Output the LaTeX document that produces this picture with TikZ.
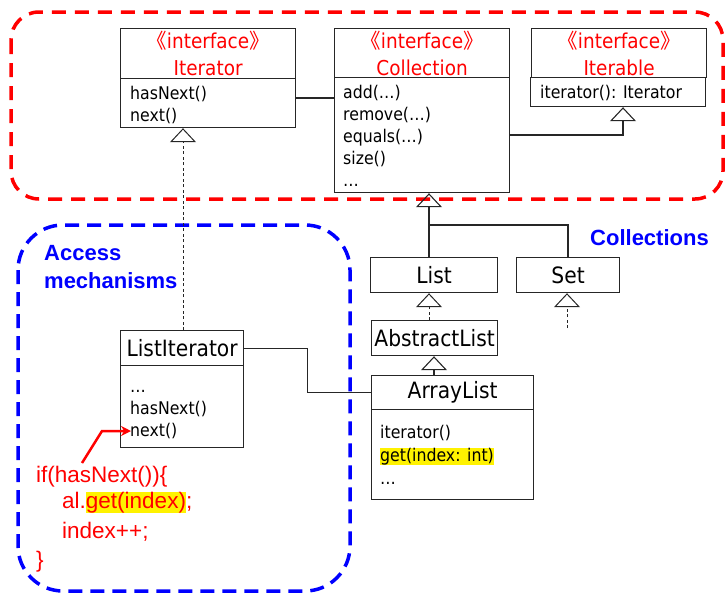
\documentclass[tikz,border=0pt]{standalone}
\usepackage{fontspec}
\setmainfont{DejaVu Sans Condensed}
\newfontfamily\cjk{Noto Sans CJK SC}
\newfontfamily\arialf{Liberation Sans}
\usetikzlibrary{arrows.meta,calc}

\newcommand\fsz[2]{\fontsize{#1}{#2}\selectfont}
\newcommand\stereo{{\cjk 《}interface{\cjk 》}}
\newcommand\hlbox[1]{{\setlength{\fboxsep}{0pt}\colorbox{yellow}{#1}}}

\tikzset{
  box/.style={draw=black!85, line width=1.2pt, inner sep=0pt, anchor=north west},
  head/.style={box, align=center, text=red, font=\fsz{20.5}{27}},
  cname/.style={box, font=\fsz{22.5}{27}},
  mtext/.style={anchor=north west, inner sep=0pt, align=left, font=\fsz{17.5}{22}},
  link/.style={draw=black!85, line width=1.1pt},
  impl/.style={link, -{Triangle[open, length=14pt, width=26pt]}},
  dotted link/.style={line width=1pt, dash pattern=on 3pt off 2.5pt},
  reddash/.style={draw=red, line width=3.5pt, dash pattern=on 14pt off 9pt, rounded corners=28pt},
  bluedash/.style={draw=blue, line width=3.5pt, dash pattern=on 14pt off 8pt, rounded corners=45pt},
  bluelab/.style={text=blue, inner sep=0pt, font=\arialf\bfseries\fsz{22}{28}, align=left},
  code/.style={text=red, inner sep=0pt, anchor=base west, font=\arialf\fsz{22.5}{28}},
  redarr/.style={draw=red, line width=2.5pt, -{Stealth[length=10pt, width=10pt]}},
}

\begin{document}
\begin{tikzpicture}[x=1pt, y=-1pt]
\useasboundingbox (0,0) rectangle (728,595);

% grouping frames
\draw[reddash] (11,12) rectangle (723,199);
\draw[bluedash] (18,225) rectangle (350,591);

% interface Iterator
\node[head, minimum width=175pt, minimum height=50pt] (itH) at (120,28) {\stereo\\Iterator};
\node[box, minimum width=175pt, minimum height=49pt] (itB) at (120,78) {};
\node[mtext] (itT) at (130,86) {hasNext()\\next()};

% interface Collection
\node[head, minimum width=175pt, minimum height=49pt] (coH) at (334,28) {\stereo\\Collection};
\node[box, minimum width=175pt, minimum height=115pt] (coB) at (334,77) {};
\node[mtext] (coT) at (343,85) {add(…)\\remove(…)\\equals(…)\\size()\\…};

% interface Iterable
\node[head, minimum width=175pt, minimum height=49pt] (ibH) at (531,28) {\stereo\\Iterable};
\node[box, minimum width=175pt, minimum height=29pt] (ibB) at (530,77) {};
\node[mtext] (ibT) at (540,85) {iterator(): Iterator};

% collection classes
\node[cname, minimum width=127pt, minimum height=35pt] (list) at (370,257) {List};
\node[cname, minimum width=103pt, minimum height=35pt] (set) at (516,257) {Set};
\node[cname, minimum width=126pt, minimum height=35pt] (abs) at (371,320) {AbstractList};
\node[cname, minimum width=162pt, minimum height=34pt] (alH) at (371,375) {ArrayList};
\node[box, minimum width=162pt, minimum height=90pt] (alB) at (371,409) {};
\node[mtext, font=\fsz{17.5}{23}] (alT) at (380,425) {iterator()\\\hlbox{get(index: int)}\\…};

% ListIterator
\node[cname, minimum width=123pt, minimum height=35pt] (liH) at (120,330) {ListIterator};
\node[box, minimum width=123pt, minimum height=82pt] (liB) at (120,365) {};
\node[mtext] (liT) at (130,390) {…\\hasNext()\\next()};

% labels
\node[bluelab, anchor=north west] (acc) at (44,245) {Access\\mechanisms};
\node[bluelab, anchor=west] (colls) at (590,238) {Collections};

% code fragment
\node[code] (c1) at (36,482) {if(hasNext())\{};
\node[code] (c2) at (62,508) {al.\hlbox{get(index)};};
\node[code] (c3) at (62,538) {index++;};
\node[code] (c4) at (36,567) {\}};

% connectors
\coordinate (jn) at (429,225);
\coordinate (setsub) at (567,328);
\coordinate (cs) at (82,463);
\coordinate (cb) at (102,431);
\coordinate (nx) at (131,431);

\draw[link] (itB.east |- 0,98) -- (coB.west |- 0,98);
\draw[impl] (coB.east |- 0,135) -| (ibB.south -| 623,0);
\draw[link] (list.north -| jn) -- (jn);
\draw[link] (set.north -| 568,0) |- (jn);
\draw[impl] (jn) -- (coB.south -| jn);
\draw[impl, dotted link] (abs.north -| jn) -- (list.south -| jn);
\draw[impl, dotted link] (setsub) -- (set.south -| setsub);
\draw[impl] (alH.north -| 434,0) -- (abs.south -| 434,0);
\draw[impl, dotted link] (liH.north -| 183,0) -- (itB.south -| 183,0);
\draw[link] (liH.east) -| ($(liH.east)!.5!(alH.west)$) |- (alH.west);
\draw[redarr] (cs) -- (cb) -- (nx);
\end{tikzpicture}
\end{document}
